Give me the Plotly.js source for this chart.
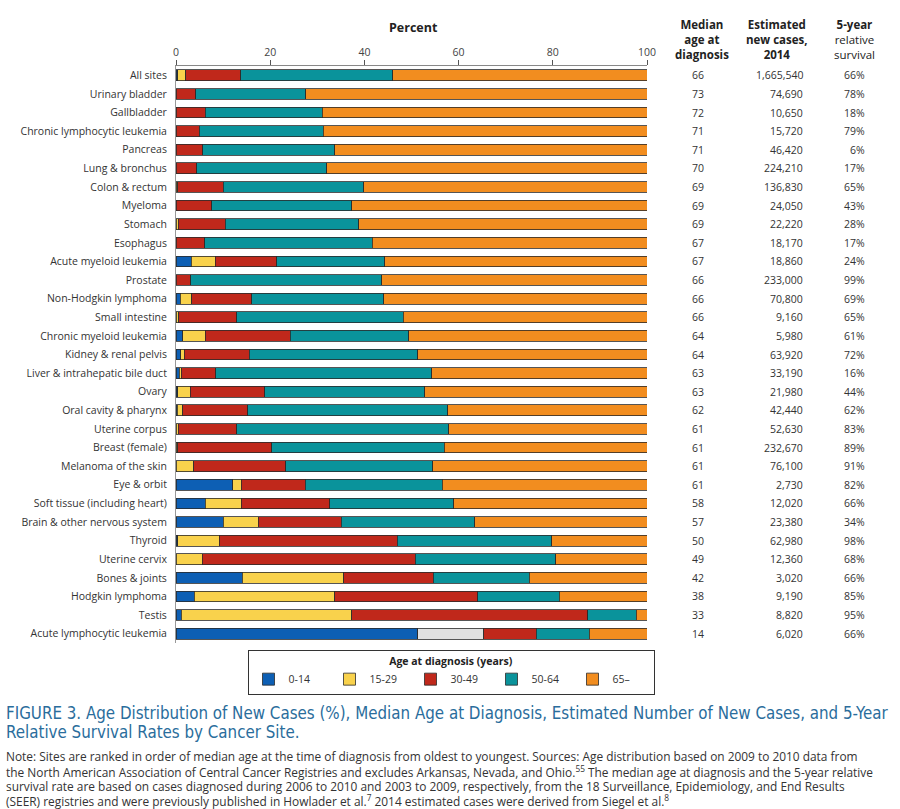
<!DOCTYPE html>
<html>
<head>
<meta charset="utf-8">
<script src="https://cdn.plot.ly/plotly-3.0.1.min.js"></script>
<style>
html,body{margin:0;padding:0;background:#fff;}
#chart{width:900px;height:809px;}
</style>
</head>
<body>
<div id="chart"></div>
<script>
const sites = ["All sites","Urinary bladder","Gallbladder","Chronic lymphocytic leukemia","Pancreas","Lung & bronchus","Colon & rectum","Myeloma","Stomach","Esophagus","Acute myeloid leukemia","Prostate","Non-Hodgkin lymphoma","Small intestine","Chronic myeloid leukemia","Kidney & renal pelvis","Liver & intrahepatic bile duct","Ovary","Oral cavity & pharynx","Uterine corpus","Breast (female)","Melanoma of the skin","Eye & orbit","Soft tissue (including heart)","Brain & other nervous system","Thyroid","Uterine cervix","Bones & joints","Hodgkin lymphoma","Testis","Acute lymphocytic leukemia"];

const age0_14  = [0.4,0,0,0,0,0,0,0,0,0,3.2,0,0.9,0,1.4,1.0,0.7,0.4,0.3,0,0,0,12.0,6.2,10.0,0.35,0,14.1,3.9,1.1,51.3];
const age15_29 = [1.7,0,0,0,0,0,0.4,0,0.5,0,5.1,0,2.4,0.6,4.8,0.7,0.4,2.6,1.1,0.5,0.4,3.8,1.8,7.6,7.5,8.85,5.6,21.5,29.8,36.2,14.0];
const age30_49 = [11.6,4.2,6.2,4.9,5.7,4.4,9.6,7.6,10.0,6.1,13.1,3.1,12.8,12.3,18.1,13.9,7.3,15.8,13.8,12.4,19.9,19.5,13.6,18.8,17.6,37.8,45.2,19.0,30.4,50.1,11.2];
const age50_64 = [32.3,23.3,24.8,26.4,28.0,27.6,29.9,29.7,28.3,35.6,22.9,40.6,28.0,35.4,25.1,35.7,45.9,34.0,42.5,45.0,36.6,31.2,29.1,26.4,28.3,32.8,29.8,20.4,17.3,10.3,11.2];
const age65up  = [54.0,72.5,69.0,68.7,66.3,68.0,60.1,62.7,61.2,58.3,55.7,56.3,55.9,51.7,50.6,48.7,45.7,47.2,42.3,42.1,43.1,45.5,43.5,41.0,36.6,20.2,19.4,25.0,18.6,2.3,12.3];

const medianAge = ["66","73","72","71","71","70","69","69","69","67","67","66","66","66","64","64","63","63","62","61","61","61","61","58","57","50","49","42","38","33","14"];
const newCases = ["1,665,540","74,690","10,650","15,720","46,420","224,210","136,830","24,050","22,220","18,170","18,860","233,000","70,800","9,160","5,980","63,920","33,190","21,980","42,440","52,630","232,670","76,100","2,730","12,020","23,380","62,980","12,360","3,020","9,190","8,820","6,020"];
const survival = ["66%","78%","18%","79%","6%","17%","65%","43%","28%","17%","24%","99%","69%","65%","61%","72%","16%","44%","62%","83%","89%","91%","82%","66%","34%","98%","68%","66%","85%","95%","66%"];

const groupNames = ["0-14","15-29","30-49","50-64","65\u2013"];
const tickVals = [0,20,40,60,80,100];

const captionLines = [
  "FIGURE 3. Age Distribution of New Cases (%), Median Age at Diagnosis, Estimated Number of New Cases, and 5-Year",
  "Relative Survival Rates by Cancer Site."
];
const noteLines = [
  "Note: Sites are ranked in order of median age at the time of diagnosis from oldest to youngest. Sources: Age distribution based on 2009 to 2010 data from",
  "the North American Association of Central Cancer Registries and excludes Arkansas, Nevada, and Ohio.<sup>55</sup> The median age at diagnosis and the 5-year relative",
  "survival rate are based on cases diagnosed during 2006 to 2010 and 2003 to 2009, respectively, from the 18 Surveillance, Epidemiology, and End Results",
  "(SEER) registries and were previously published in Howlader et al.<sup>7</sup> 2014 estimated cases were derived from Siegel et al.<sup>8</sup>"
];

const colors = ["#0d5fb4","#f9d24c","#c0281b","#0a939b","#f28d1f"];
const outline = {color:"#2b2b2b", width:0.8};
const font = "Open Sans, Noto Sans, sans-serif";

const seriesList = [age0_14, age15_29, age30_49, age50_64, age65up];
const traces = seriesList.map((vals, i) => {
  let col = colors[i];
  if (i === 1) {
    col = sites.map(s => s === "Acute lymphocytic leukemia" ? "#e1e1e1" : colors[1]);
  }
  return {
    type: "bar",
    orientation: "h",
    name: groupNames[i],
    y: sites,
    x: vals,
    marker: {color: col, line: outline},
    hoverinfo: "x+y+name"
  };
});

const plotL = 176, plotR = 647, plotW = plotR - plotL;
const px = p => (p - plotL) / plotW;
const plotT = 66, plotB = 643, plotH = plotB - plotT;
const py = p => (plotB - p) / plotH;

const annotations = [];
sites.forEach((s, i) => {
  annotations.push({xref:"paper", yref:"y", x:px(698), y:s, text:medianAge[i], showarrow:false, xanchor:"center", yanchor:"middle",
    font:{family:font, size:10.5, color:"#333"}});
  annotations.push({xref:"paper", yref:"y", x:px(805), y:s, text:newCases[i], showarrow:false, xanchor:"right", yanchor:"middle",
    font:{family:font, size:10.5, color:"#333"}});
  annotations.push({xref:"paper", yref:"y", x:px(867), y:s, text:survival[i], showarrow:false, xanchor:"right", yanchor:"middle",
    font:{family:font, size:10.5, color:"#333"}});
});

const headers = [
  {x:702, text:"<b>Median</b><br><b>age at</b><br><b>diagnosis</b>"},
  {x:777, text:"<b>Estimated</b><br><b>new cases,</b><br><b>2014</b>"},
  {x:854, text:"<b>5-year</b><br>relative<br>survival"}
];
headers.forEach(h => {
  annotations.push({xref:"paper", yref:"paper", x:px(h.x), y:py(64), yanchor:"bottom", xanchor:"center",
    text:h.text, showarrow:false, align:"center",
    font:{family:font, size:11.5, color:"#222"}});
});
annotations.push({xref:"paper", yref:"paper", x:px(413), y:py(28), xanchor:"center", yanchor:"middle",
  text:"<b>Percent</b>", showarrow:false,
  font:{family:font, size:12.5, color:"#222"}});

const capY = [713, 732];
captionLines.forEach((t, i) => {
  annotations.push({xref:"paper", yref:"paper", x:px(4), y:py(capY[i]), xanchor:"left", yanchor:"middle", align:"left",
    text:t, showarrow:false, font:{family:"DejaVu Sans Condensed, Open Sans, sans-serif", size:16.8, color:"#2a6d9c"}});
});
const noteY = [756, 771, 786, 800.5];
noteLines.forEach((t, i) => {
  annotations.push({xref:"paper", yref:"paper", x:px(4), y:py(noteY[i]), xanchor:"left", yanchor:"middle", align:"left",
    text:t, showarrow:false, font:{family:"Open Sans, sans-serif", size:11.9, color:"#333"}});
});

const layout = {
  width: 900, height: 809,
  margin: {l: plotL, r: 900 - plotR, t: plotT, b: 809 - plotB, pad: 0},
  paper_bgcolor: "#fff", plot_bgcolor: "#fff",
  barmode: "stack",
  bargap: 0.42,
  showlegend: true,
  font: {family: font, color: "#333"},
  xaxis: {
    side: "top", range: [0, 100], tickvals: tickVals, ticktext: tickVals.map(String),
    ticks: "outside", ticklen: 5, tickcolor: "#555", tickwidth: 1,
    showline: true, linecolor: "#888", linewidth: 1,
    showgrid: false, zeroline: false, fixedrange: true,
    tickfont: {family: font, size: 10.5, color: "#444"}
  },
  yaxis: {
    type: "category", autorange: "reversed",
    showline: true, linecolor: "#999", linewidth: 1,
    ticks: "", ticklabelstandoff: 6,
    showgrid: false, zeroline: false, fixedrange: true,
    tickfont: {family: font, size: 10.5, color: "#333"}
  },
  legend: {
    orientation: "h",
    x: px(451), xanchor: "center",
    y: py(650), yanchor: "top",
    bordercolor: "#333", borderwidth: 1,
    bgcolor: "#fff",
    traceorder: "normal",
    entrywidth: 36, entrywidthmode: "pixels",
    itemwidth: 30,
    title: {text: "<b>Age at diagnosis (years)</b>", side: "top center", font: {family: font, size: 10.5, color: "#222"}},
    font: {family: font, size: 10.5, color: "#333"}
  },
  annotations: annotations
};

Plotly.newPlot("chart", traces, layout, {displayModeBar: false, staticPlot: true});
</script>
</body>
</html>
